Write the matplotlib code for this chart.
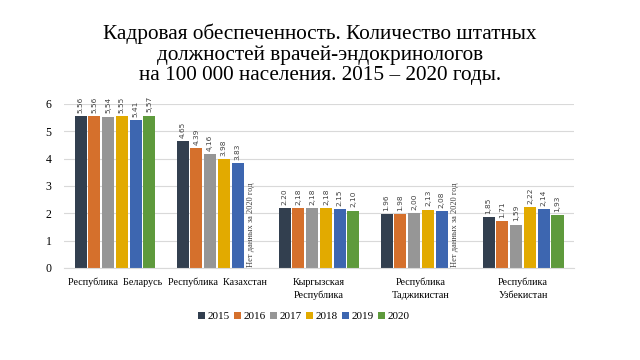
import numpy as np
import matplotlib.pyplot as plt

plt.rcParams['font.family'] = ['Liberation Serif', 'DejaVu Serif']

categories = ['Республика  Беларусь', 'Республика  Казахстан', 'Кыргызская\nРеспублика',
              'Республика\nТаджикистан', 'Республика\nУзбекистан']
years = ['2015', '2016', '2017', '2018', '2019', '2020']
values = [
    [5.56, 4.65, 2.20, 1.96, 1.85],
    [5.56, 4.39, 2.18, 1.98, 1.71],
    [5.54, 4.16, 2.18, 2.00, 1.59],
    [5.55, 3.98, 2.18, 2.13, 2.22],
    [5.41, 3.83, 2.15, 2.08, 2.14],
    [5.57, None, 2.10, None, 1.93],
]
labels = [
    ['5.56', '4.65', '2.20', '1.96', '1,85'],
    ['5.56', '4.39', '2,18', '1.98', '1.71'],
    ['5,54', '4,16', '2,18', '2,00', '1,59'],
    ['5.55', '3.98', '2,18', '2,13', '2,22'],
    ['5.41', '3.83', '2.15', '2,08', '2,14'],
    ['5,57', None, '2,10', None, '1,93'],
]
no_data = 'Нет данных за 2020 год'
colors = ['#323F4F', '#D5702C', '#969696', '#E2AA00', '#3D66B0', '#5E9A3C']

fig = plt.figure(figsize=(6.4, 3.6), dpi=100)
ax = fig.add_axes([0.1, 0.2556, 0.797, 0.4556])

x = np.arange(len(categories))
pitch = 0.135
width = 0.118
for i, yr in enumerate(years):
    xs = x + (i - 2.5) * pitch
    for j in range(len(categories)):
        v = values[i][j]
        if v is None:
            ax.text(xs[j], 0.05, no_data, rotation=90, ha='center', va='bottom',
                    fontsize=6, color='#404040')
            continue
        ax.bar(xs[j], v, width, color=colors[i], label=yr if j == 0 else None)
        ax.text(xs[j], v + 0.12, labels[i][j], rotation=90, ha='center', va='bottom',
                fontsize=5.3, color='#404040', family='DejaVu Sans')

ax.set_xlim(-0.5, 4.5)
ax.set_ylim(0, 6)
ax.set_yticks(range(0, 7))
ax.set_xticks(x)
ax.set_xticklabels(categories, fontsize=7.3, linespacing=1.5)
ax.tick_params(axis='y', labelsize=8.5, length=0, pad=9)
ax.tick_params(axis='x', length=0, pad=7)
ax.grid(axis='y', color='#D9D9D9', linewidth=0.8)
ax.set_axisbelow(True)
for s in ['top', 'right', 'left']:
    ax.spines[s].set_visible(False)
ax.spines['bottom'].set_color('#D9D9D9')

fig.suptitle('Кадровая обеспеченность. Количество штатных\nдолжностей врачей-эндокринологов\nна 100 000 населения. 2015 – 2020 годы.',
             fontsize=15.3, y=0.935, linespacing=1.1)

fig.legend(loc='lower center', bbox_to_anchor=(0.475, 0.08), ncol=6, frameon=False,
           fontsize=8, handlelength=0.6, handleheight=0.6, handletextpad=0.25, columnspacing=0.4)

fig.savefig('out.png', dpi=100)
